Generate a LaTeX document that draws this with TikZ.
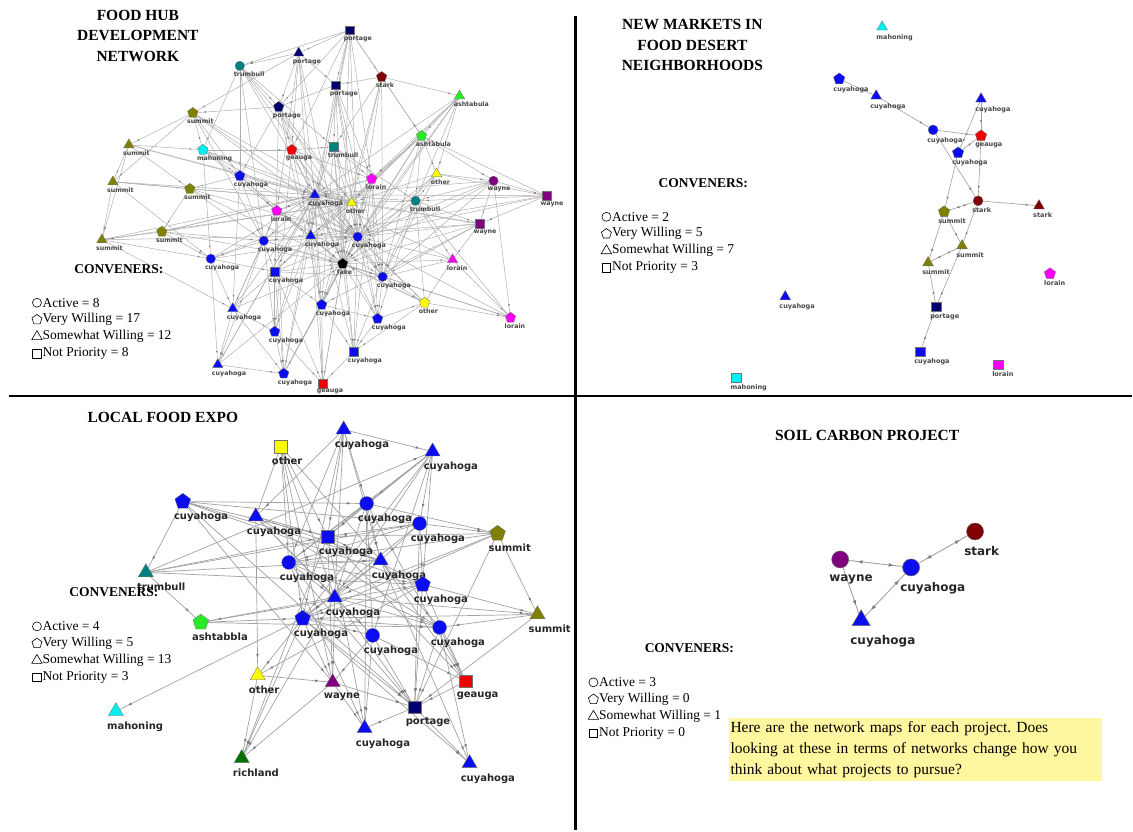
\documentclass[tikz,border=0pt]{standalone}
\usepackage{fontspec}
\setmainfont{Liberation Serif}
\newfontfamily\lblfont{DejaVu Sans}
\usetikzlibrary{shapes.geometric,decorations.markings,arrows.meta}
\pgfdeclarelayer{paper}
\pgfdeclarelayer{links}
\pgfsetlayers{paper,links,main}
\frenchspacing

\definecolor{cblue}{RGB}{12,12,240}
\definecolor{cnavy}{RGB}{0,0,112}
\definecolor{cteal}{RGB}{0,128,128}
\definecolor{cdred}{RGB}{128,0,0}
\definecolor{cgreen}{RGB}{40,235,40}
\definecolor{colive}{RGB}{128,128,0}
\definecolor{ccyan}{RGB}{0,240,240}
\definecolor{cred}{RGB}{240,0,0}
\definecolor{cyel}{RGB}{250,250,0}
\definecolor{cpurp}{RGB}{128,0,128}
\definecolor{cmag}{RGB}{250,0,250}
\definecolor{cdgreen}{RGB}{0,112,0}
\definecolor{linkA}{RGB}{176,176,176}
\definecolor{linkB}{RGB}{160,160,160}
\definecolor{linkC}{RGB}{162,162,162}
\definecolor{tipgray}{RGB}{125,125,125}
\definecolor{noteyellow}{RGB}{255,246,160}

\tikzset{
  shp/.style={draw=black!55, line width=0.3pt, inner sep=0pt, outer sep=0pt},
  circ/.style={shp, circle, minimum size=\csz},
  pent/.style={shp, regular polygon, regular polygon sides=5, minimum size=\psz},
  tri/.style={shp, regular polygon, regular polygon sides=3, minimum size=\tsz},
  sq/.style={shp, rectangle, minimum size=\ssz},
  lbl/.style={anchor=north west, inner sep=0pt, text=\lcol,
    font=\lblfont\bfseries\fontsize{\lfs}{\lfs}\selectfont},
  lnA/.style={draw=linkA, line width=0.5pt, postaction={decorate},
    decoration={markings, mark=at position -6pt with
      {\arrow{Latex[length=2.4pt,width=1.8pt,color=tipgray]}}}},
  lnB/.style={draw=linkB, line width=0.6pt, postaction={decorate},
    decoration={markings, mark=at position -7pt with
      {\arrow{Latex[length=3pt,width=2.3pt,color=tipgray]}}}},
  lnBB/.style={draw=linkB, line width=0.6pt, postaction={decorate},
    decoration={markings,
      mark=at position 7pt with {\arrowreversed{Latex[length=3pt,width=2.3pt,color=tipgray]}},
      mark=at position -7pt with {\arrow{Latex[length=3pt,width=2.3pt,color=tipgray]}}}},
  lnC/.style={draw=linkC, line width=0.7pt, postaction={decorate},
    decoration={markings, mark=at position -9pt with
      {\arrow{Latex[length=3.8pt,width=2.8pt,color=tipgray]}}}},
  lnD/.style={draw=linkC, line width=0.9pt, postaction={decorate},
    decoration={markings, mark=at position -9pt with
      {\arrow{Latex[length=5pt,width=4pt,color=tipgray]}}}},
  lnDD/.style={draw=linkC, line width=0.9pt, postaction={decorate},
    decoration={markings,
      mark=at position 9pt with {\arrowreversed{Latex[length=5pt,width=4pt,color=tipgray]}},
      mark=at position -9pt with {\arrow{Latex[length=5pt,width=4pt,color=tipgray]}}}},
  ttl/.style={align=center, inner sep=0pt, font=\bfseries\fontsize{15.5}{20.5}\selectfont},
  legttl/.style={inner sep=0pt, font=\bfseries\fontsize{13.5}{16}\selectfont},
  legtxt/.style={anchor=west, inner sep=0pt, font=\fontsize{13.5}{16}\selectfont},
  legshape/.style={draw=black, line width=0.6pt, inner sep=0pt, fill=none},
  legc/.style={legshape, circle, minimum size=9pt},
  legp/.style={legshape, regular polygon, regular polygon sides=5, minimum size=10.5pt},
  legt/.style={legshape, regular polygon, regular polygon sides=3, minimum size=12pt},
  legs/.style={legshape, rectangle, minimum size=8.5pt},
  note/.style={anchor=north west, fill=noteyellow, align=left, text width=370pt,
    inner xsep=2pt, inner ysep=2pt, minimum height=64pt,
    font=\fontsize{15.5}{21}\selectfont},
  divider/.style={draw=black, line width=2.2pt},
}

% one network member: shape node plus its county label
\newcommand\netnode[6]{%
  \node[#2, fill=#3] (#1) at (#4,#5) {};
  \node[lbl] (#1t) at (#4-\lx,#5+\ly) {#6};}

% convener key: heading, then four symbol rows
\newcommand\convkey[9]{%
  \node[legttl] (#1h) at (#2,#3) {CONVENERS:};
  \node[legc] (#1c) at (#4,#5) {};
  \node[legtxt] (#1ct) at (#4+5.5,#5) {Active = #6};
  \node[legp] (#1p) at (#4,#5+17) {};
  \node[legtxt] (#1pt) at (#4+5.5,#5+17) {Very Willing = #7};
  \node[legt] (#1t) at (#4,#5+34) {};
  \node[legtxt] (#1tt) at (#4+5.5,#5+34) {Somewhat Willing = #8};
  \node[legs] (#1s) at (#4,#5+51) {};
  \node[legtxt] (#1st) at (#4+5.5,#5+51) {Not Priority = #9};}

\begin{document}
\begin{tikzpicture}[x=1pt,y=-1pt]
\begin{pgfonlayer}{paper}
\path[use as bounding box, fill=white] (0,0) rectangle (1133,831);
\end{pgfonlayer}

% ---------------- Food hub development network ----------------
\begin{scope}
\def\csz{9.5pt}\def\psz{11pt}\def\tsz{12pt}\def\ssz{8.5pt}
\def\lfs{6.3}\def\lcol{black!72}\def\lx{6}\def\ly{5.5}
\netnode{a1}{sq}{cnavy}{350}{30}{portage}
\netnode{a2}{tri}{cnavy}{299}{53}{portage}
\netnode{a3}{circ}{cteal}{240}{66}{trumbull}
\netnode{a4}{pent}{cdred}{382}{77}{stark}
\netnode{a5}{sq}{cnavy}{336}{85}{portage}
\netnode{a6}{tri}{cgreen}{460}{96}{ashtabula}
\netnode{a7}{pent}{cnavy}{279}{107}{portage}
\netnode{a8}{pent}{colive}{193}{113}{summit}
\netnode{a9}{tri}{colive}{129}{145}{summit}
\netnode{a10}{pent}{ccyan}{203}{150}{mahoning}
\netnode{a11}{pent}{cred}{292}{150}{geauga}
\netnode{a12}{sq}{cteal}{334}{147}{trumbull}
\netnode{a13}{pent}{cgreen}{422}{136}{ashtabula}
\netnode{a14}{pent}{cblue}{240}{176}{cuyahoga}
\netnode{a15}{tri}{colive}{113}{182}{summit}
\netnode{a16}{pent}{colive}{190}{189}{summit}
\netnode{a17}{tri}{cyel}{437}{174}{other}
\netnode{a18}{circ}{cpurp}{494}{181}{wayne}
\netnode{a19}{sq}{cpurp}{547}{196}{wayne}
\netnode{a20}{pent}{cmag}{372}{179}{lorain}
\netnode{a21}{tri}{cblue}{315}{195}{cuyahoga}
\netnode{a22}{tri}{cyel}{352}{203}{other}
\netnode{a23}{circ}{cteal}{416}{201}{trumbull}
\netnode{a24}{pent}{cmag}{277}{211}{lorain}
\netnode{a25}{sq}{cpurp}{480}{224}{wayne}
\netnode{a26}{pent}{colive}{162}{232}{summit}
\netnode{a27}{tri}{colive}{102}{240}{summit}
\netnode{a28}{tri}{cblue}{311}{236}{cuyahoga}
\netnode{a29}{circ}{cblue}{358}{237}{cuyahoga}
\netnode{a30}{circ}{cblue}{264}{241}{cuyahoga}
\netnode{a31}{circ}{cblue}{211}{259}{cuyahoga}
\netnode{a32}{sq}{cblue}{275}{272}{cuyahoga}
\netnode{a33}{pent}{black}{343}{264}{fake}
\netnode{a34}{tri}{cmag}{453}{260}{lorain}
\netnode{a35}{circ}{cblue}{383}{277}{cuyahoga}
\netnode{a36}{tri}{cblue}{233}{309}{cuyahoga}
\netnode{a37}{pent}{cblue}{322}{305}{cuyahoga}
\netnode{a38}{pent}{cblue}{378}{319}{cuyahoga}
\netnode{a39}{pent}{cyel}{425}{303}{other}
\netnode{a40}{pent}{cmag}{511}{318}{lorain}
\netnode{a41}{pent}{cblue}{275}{332}{cuyahoga}
\netnode{a42}{sq}{cblue}{354}{352}{cuyahoga}
\netnode{a43}{tri}{cblue}{218}{365}{cuyahoga}
\netnode{a44}{pent}{cblue}{284}{374}{cuyahoga}
\netnode{a45}{sq}{cred}{323}{384}{geauga}
\begin{pgfonlayer}{links}
\foreach \s/\t in {1/2,1/5,1/4,1/7,1/11,1/21,1/29,1/33,1/13,1/3,1/20,1/28,
  2/3,2/7,2/5,2/11,2/28,2/24,2/33,2/8,2/21,
  3/7,3/10,3/14,3/21,3/30,3/12,3/22,3/29,
  4/5,4/13,4/12,4/29,4/22,4/35,4/37,4/6,
  5/7,5/12,5/20,5/28,5/33,5/38,5/29,5/35,
  6/13,6/17,6/23,6/29,6/33,6/22,6/21,6/20,
  7/8,7/11,7/14,7/22,7/29,7/32,7/33,7/37,
  8/9,8/10,8/14,8/21,8/15,8/30,8/22,8/29,
  9/15,9/16,9/27,9/10,9/22,9/21,
  10/14,10/11,10/21,10/31,10/24,10/22,10/29,
  11/12,11/20,11/28,11/29,11/33,11/41,11/35,
  12/20,12/21,12/33,12/35,12/37,12/23,12/29,12/42,
  13/17,13/20,13/22,13/23,13/18,13/28,13/33,13/29,13/35,
  14/16,14/21,14/24,14/30,14/33,14/36,14/29,
  15/16,15/27,15/21,15/31,15/22,
  16/26,16/22,16/29,16/30,16/33,
  17/18,17/19,17/22,17/23,17/33,17/29,17/35,
  18/19,18/23,18/25,18/21,18/29,18/40,18/33,18/35,
  19/23,19/25,19/28,19/21,19/29,19/13,
  20/21,20/22,20/24,20/29,20/33,20/37,20/42,20/35,20/38,
  21/22,21/24,21/28,21/29,21/30,21/32,21/33,21/35,21/37,21/26,21/43,
  22/23,22/25,22/28,22/29,22/31,22/33,22/36,22/27,
  23/25,23/29,23/33,23/34,23/39,23/21,23/35,23/38,
  24/28,24/30,24/32,24/33,24/36,24/44,24/29,24/35,
  25/28,25/29,25/33,25/34,25/35,25/21,25/37,
  26/27,26/30,26/31,26/33,26/21,26/22,
  27/31,27/28,27/36,27/21,
  28/29,28/30,28/32,28/33,28/37,28/41,28/44,28/45,
  29/33,29/35,29/37,29/38,29/39,29/42,
  30/31,30/32,30/33,30/36,30/41,30/43,30/35,30/29,
  31/32,31/36,31/43,31/21,31/29,
  32/33,32/37,32/41,32/44,32/45,32/29,32/35,
  33/34,33/35,33/37,33/38,33/39,33/40,33/42,33/44,33/45,
  34/35,34/39,34/40,34/21,34/29,
  35/38,35/39,35/40,35/42,
  36/41,36/43,36/44,36/21,36/33,
  37/38,37/42,37/44,37/45,
  38/42,38/39,38/21,39/40,39/42,39/21,39/33,
  40/29,40/23,
  41/44,41/45,41/21,42/45,42/21,43/44,43/33,43/21,
  44/21,44/33,45/33,45/21}
  {\draw[lnA] (a\s) -- (a\t);}
\end{pgfonlayer}
\end{scope}
\node[ttl] (t1) at (138,36) {FOOD HUB\\DEVELOPMENT\\NETWORK};
\convkey{k1}{119}{269}{37}{303}{8}{17}{12}{8}

% ---------------- New markets in food desert neighborhoods ----------------
\begin{scope}
\def\csz{10pt}\def\psz{12pt}\def\tsz{12.5pt}\def\ssz{9.5pt}
\def\lfs{6.5}\def\lcol{black!72}\def\lx{6}\def\ly{7}
\netnode{b1}{tri}{ccyan}{883}{27}{mahoning}
\netnode{b2}{pent}{cblue}{840}{79}{cuyahoga}
\netnode{b3}{tri}{cblue}{877}{96}{cuyahoga}
\netnode{b4}{tri}{cblue}{982}{99}{cuyahoga}
\netnode{b5}{circ}{cblue}{934}{130}{cuyahoga}
\netnode{b6}{pent}{cred}{982}{136}{geauga}
\netnode{b7}{pent}{cblue}{959}{153}{cuyahoga}
\netnode{b8}{circ}{cdred}{979}{201}{stark}
\netnode{b9}{tri}{cdred}{1040}{206}{stark}
\netnode{b10}{pent}{colive}{945}{212}{summit}
\netnode{b11}{tri}{colive}{963}{246}{summit}
\netnode{b12}{tri}{colive}{929}{263}{summit}
\netnode{b13}{pent}{cmag}{1051}{274}{lorain}
\netnode{b14}{tri}{cblue}{786}{297}{cuyahoga}
\netnode{b15}{sq}{cnavy}{937}{307}{portage}
\netnode{b16}{sq}{cblue}{921}{352}{cuyahoga}
\netnode{b17}{sq}{cmag}{999}{365}{lorain}
\netnode{b18}{sq}{ccyan}{737}{378}{mahoning}
\begin{pgfonlayer}{links}
\foreach \s/\t in {2/3,3/5,5/6,4/6,4/7,7/6,5/8,6/8,7/10,8/9,8/11,
  10/11,10/12,12/15,11/15,15/16}
  {\draw[lnB] (b\s) -- (b\t);}
\draw[lnBB] (b10) -- (b8);
\draw[lnBB] (b12) -- (b11);
\end{pgfonlayer}
\end{scope}
\node[ttl] (t2) at (693,45) {NEW MARKETS IN\\FOOD DESERT\\NEIGHBORHOODS};
\convkey{k2}{704}{183}{607}{217}{2}{5}{7}{3}

% ---------------- Local food expo ----------------
\begin{scope}
\def\csz{14pt}\def\psz{16.5pt}\def\tsz{17.5pt}\def\ssz{12.5pt}
\def\lfs{10}\def\lcol{black!85}\def\lx{9}\def\ly{10}
\netnode{c1}{tri}{cblue}{344}{430}{cuyahoga}
\netnode{c2}{sq}{cyel}{281}{447}{other}
\netnode{c3}{tri}{cblue}{433}{452}{cuyahoga}
\netnode{c4}{pent}{cblue}{183}{502}{cuyahoga}
\netnode{c5}{tri}{cblue}{256}{517}{cuyahoga}
\netnode{c6}{circ}{cblue}{367}{504}{cuyahoga}
\netnode{c7}{circ}{cblue}{420}{524}{cuyahoga}
\netnode{c8}{pent}{colive}{498}{534}{summit}
\netnode{c9}{sq}{cblue}{328}{537}{cuyahoga}
\netnode{c10}{tri}{cteal}{146}{573}{trumbull}
\netnode{c11}{circ}{cblue}{289}{563}{cuyahoga}
\netnode{c12}{tri}{cblue}{381}{561}{cuyahoga}
\netnode{c13}{pent}{cblue}{423}{585}{cuyahoga}
\netnode{c14}{tri}{cblue}{335}{598}{cuyahoga}
\netnode{c15}{tri}{colive}{538}{615}{summit}
\netnode{c16}{pent}{cgreen}{201}{623}{ashtabbla}
\netnode{c17}{pent}{cblue}{303}{619}{cuyahoga}
\netnode{c18}{circ}{cblue}{373}{636}{cuyahoga}
\netnode{c19}{circ}{cblue}{440}{628}{cuyahoga}
\netnode{c20}{tri}{cyel}{258}{676}{other}
\netnode{c21}{tri}{cpurp}{333}{683}{wayne}
\netnode{c22}{sq}{cred}{466}{682}{geauga}
\netnode{c23}{tri}{ccyan}{116}{712}{mahoning}
\netnode{c24}{sq}{cnavy}{415}{708}{portage}
\netnode{c25}{tri}{cblue}{365}{729}{cuyahoga}
\netnode{c26}{tri}{cdgreen}{242}{759}{richland}
\netnode{c27}{tri}{cblue}{470}{764}{cuyahoga}
\begin{pgfonlayer}{links}
\foreach \s/\t in {1/3,1/5,1/6,1/9,1/11,1/12,1/17,1/14,
  2/9,2/11,2/14,2/17,2/21,2/12,
  3/6,3/7,3/9,3/11,3/13,3/17,3/18,3/14,
  4/6,4/9,4/7,4/10,4/12,4/13,4/21,4/24,
  5/2,5/20,5/12,5/14,5/18,5/9,5/19,
  6/8,6/9,6/11,6/14,6/18,6/22,6/25,6/12,
  7/8,7/11,7/13,7/17,7/24,7/12,7/9,
  8/15,8/17,8/14,8/24,8/9,8/11,
  10/16,10/9,10/7,10/13,10/12,10/3,
  11/13,11/19,11/25,11/24,11/12,11/14,
  12/17,12/19,12/22,12/27,12/14,
  13/15,13/17,13/22,13/24,13/20,13/9,
  14/15,14/16,14/24,14/26,14/21,14/19,14/18,
  15/17,15/24,15/19,
  16/17,16/19,16/13,
  17/23,17/20,17/21,17/26,17/27,17/24,17/18,17/19,
  18/24,18/25,18/21,18/22,
  19/22,19/24,19/27,
  20/21,20/26,21/24,21/25,21/26,
  22/24,24/25,24/27,
  9/21,9/25,9/26,9/22}
  {\draw[lnC] (c\s) -- (c\t);}
\end{pgfonlayer}
\end{scope}
\node[ttl] (t3) at (163,418) {LOCAL FOOD EXPO};
\convkey{k3}{114}{593}{37}{627}{4}{5}{13}{3}

% ---------------- Soil carbon project ----------------
\begin{scope}
\def\csz{17pt}\def\psz{19pt}\def\tsz{21pt}\def\ssz{15pt}
\def\lfs{12}\def\lcol{black!85}\def\lx{11}\def\ly{15}
\tikzset{shp/.append style={draw=black!60, line width=0.5pt}}
\netnode{d1}{circ}{cdred}{976}{532}{stark}
\netnode{d2}{circ}{cpurp}{841}{560}{wayne}
\netnode{d3}{circ}{cblue}{912}{568}{cuyahoga}
\netnode{d4}{tri}{cblue}{862}{621}{cuyahoga}
\begin{pgfonlayer}{links}
\draw[lnDD] (d2) -- (d3);
\draw[lnDD] (d3) -- (d1);
\draw[lnD] (d2) -- (d4);
\draw[lnDD] (d4) -- (d3);
\end{pgfonlayer}
\end{scope}
\node[ttl] (t4) at (868,436) {SOIL CARBON PROJECT};
\convkey{k4}{690}{649}{594}{683}{3}{0}{1}{0}

\node[note] (q) at (729,718) {Here are the network maps for each project. Does\\
looking at these in terms of networks change how you\\
think about what projects to pursue?};

% quadrant dividers
\coordinate (vtop) at (576,16);
\coordinate (vbot) at (576,831);
\coordinate (hleft) at (9,396);
\coordinate (hright) at (1133,396);
\draw[divider] (vtop) -- (vbot);
\draw[divider] (hleft) -- (hright);
\end{tikzpicture}
\end{document}
